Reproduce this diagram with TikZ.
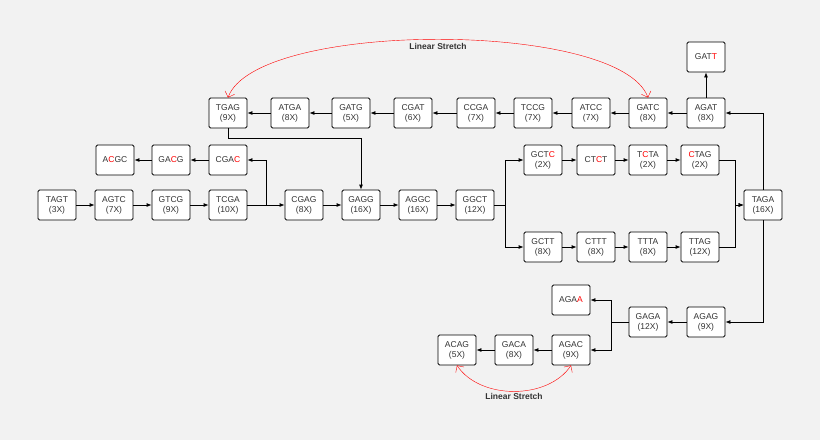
\documentclass[tikz,border=0pt]{standalone}
\usepackage{fontspec}
\setmainfont{Liberation Sans}
\usetikzlibrary{positioning,arrows.meta}
\tikzset{
  kmer/.style={draw, thick, fill=white, rounded corners=1.5pt, minimum width=38pt, minimum height=30pt, align=center, font=\fontsize{8.5}{10}\selectfont, text=black!80, inner sep=1pt},
  link/.style={thick, -{Latex[length=5pt,width=4pt]}},
  stretch/.style={red, {Straight Barb[length=5pt]}-{Straight Barb[length=5pt]}}
}
\newcommand{\rc}[1]{\textcolor{red}{#1}}
\begin{document}
\begin{tikzpicture}[x=1pt, y=-1pt]
  \fill[gray!10] (0,0) rectangle (820,440);
  \useasboundingbox (0,0) rectangle (820,440);
  % Main row
  \node[kmer] (tagt) at (57,205) {TAGT\\(3X)};
  \node[kmer] (agtc) at (114,205) {AGTC\\(7X)};
  \node[kmer] (gtcg) at (171,205) {GTCG\\(9X)};
  \node[kmer] (tcga) at (228,205) {TCGA\\(10X)};
  \node[kmer] (cgag) at (304,205) {CGAG\\(8X)};
  \node[kmer] (gagg) at (361,205) {GAGG\\(16X)};
  \node[kmer] (aggc) at (418,205) {AGGC\\(16X)};
  \node[kmer] (ggct) at (475,205) {GGCT\\(12X)};
  \node[kmer] (taga) at (763,205) {TAGA\\(16X)};
  % Side branch
  \node[kmer] (cgac) at (228,160) {CGA\rc{C}};
  \node[kmer] (gacg) at (171,160) {GA\rc{C}G};
  \node[kmer] (acgc) at (115,160) {A\rc{C}GC};
  % Bubble
  \node[kmer] (gctc) at (543,160) {GCT\rc{C}\\(2X)};
  \node[kmer] (ctct) at (596,160) {CT\rc{C}T};
  \node[kmer] (tcta) at (648,160) {T\rc{C}TA\\(2X)};
  \node[kmer] (ctag) at (700,160) {\rc{C}TAG\\(2X)};
  \node[kmer] (gctt) at (543,247) {GCTT\\(8X)};
  \node[kmer] (cttt) at (596,247) {CTTT\\(8X)};
  \node[kmer] (ttta) at (648,247) {TTTA\\(8X)};
  \node[kmer] (ttag) at (700,247) {TTAG\\(12X)};
  % Top row
  \node[kmer] (agat) at (706,113) {AGAT\\(8X)};
  \node[kmer] (gatt) at (706,57) {GAT\rc{T}};
  \node[kmer] (gatc) at (648,113) {GATC\\(8X)};
  \node[kmer] (atcc) at (591,113) {ATCC\\(7X)};
  \node[kmer] (tccg) at (533,113) {TCCG\\(7X)};
  \node[kmer] (ccga) at (476,113) {CCGA\\(7X)};
  \node[kmer] (cgat) at (413,113) {CGAT\\(6X)};
  \node[kmer] (gatg) at (351,113) {GATG\\(5X)};
  \node[kmer] (atga) at (290,113) {ATGA\\(8X)};
  \node[kmer] (tgag) at (228,113) {TGAG\\(9X)};
  % Bottom part
  \node[kmer] (agag) at (706,322) {AGAG\\(9X)};
  \node[kmer] (gaga) at (648,322) {GAGA\\(12X)};
  \node[kmer] (agaa) at (571,300) {AGA\rc{A}};
  \node[kmer] (agac) at (571,350) {AGAC\\(9X)};
  \node[kmer] (gaca) at (514,350) {GACA\\(8X)};
  \node[kmer] (acag) at (457,350) {ACAG\\(5X)};
  % Straight links
  \foreach \a/\b in {tagt/agtc, agtc/gtcg, gtcg/tcga, tcga/cgag, cgag/gagg, gagg/aggc, aggc/ggct,
    cgac/gacg, gacg/acgc, gctc/ctct, ctct/tcta, tcta/ctag, gctt/cttt, cttt/ttta, ttta/ttag,
    agat/gatt, agat/gatc, gatc/atcc, atcc/tccg, tccg/ccga, ccga/cgat, cgat/gatg, gatg/atga, atga/tgag,
    agag/gaga, agac/gaca, gaca/acag}
    \draw[link] (\a) -- (\b);
  % Elbow links
  \draw[link] (tcga.east) -- ++(19,0) |- (cgac.east);
  \draw[link] (tgag.south) -- ++(0,10) -| (gagg.north);
  \draw[link] (ggct.east) -- ++(11,0) |- (gctc.west);
  \draw[link] (ggct.east) -- ++(11,0) |- (gctt.west);
  \draw[link] (ctag.east) -- ++(16,0) |- (taga.west);
  \draw[link] (ttag.east) -- ++(16,0) |- (taga.west);
  \draw[link] (taga.north) |- (agat.east);
  \draw[link] (taga.south) |- (agag.east);
  \draw[link] (gaga.west) -- ++(-17,0) |- (agaa.east);
  \draw[link] (gaga.west) -- ++(-17,0) |- (agac.east);
  % Linear stretches
  \draw[stretch] (gatc.north) .. controls (620,20) and (256,20) .. (tgag.north);
  \node[font=\bfseries\fontsize{8.5}{10}\selectfont, text=black!80] (top) at (438,46) {Linear Stretch};
  \draw[stretch] (acag.south) .. controls (480,400) and (548,400) .. (agac.south);
  \node[font=\bfseries\fontsize{8.5}{10}\selectfont, text=black!80] (bottom) at (514,396) {Linear Stretch};
\end{tikzpicture}
\end{document}
